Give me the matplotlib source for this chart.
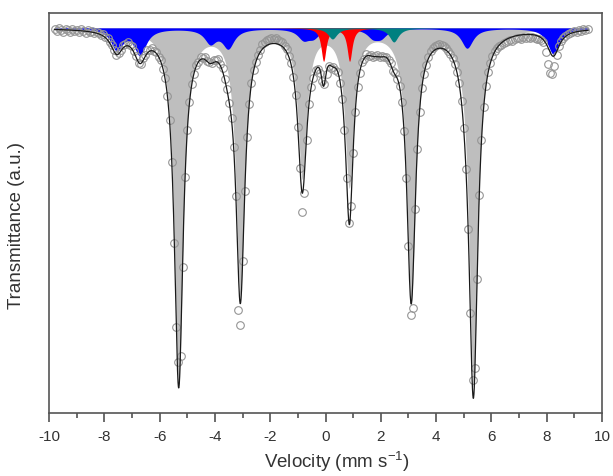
import numpy as np
import matplotlib
matplotlib.use("Agg")
from matplotlib import pyplot as plt

plt.rcParams['font.family'] = ['Liberation Sans', 'DejaVu Sans']
plt.rcParams['axes.unicode_minus'] = False

# fitted sub-spectra: line positions (mm/s), depths (a.u.), half widths (mm/s)
gray_pos = [-5.31, -3.08, -0.84, 0.86, 3.10, 5.35]
gray_depth = [355, 265, 146, 155, 269, 356]
gray_hw = 0.19

blue_pos = [-7.55, -6.71, -4.17, -3.52, -0.80, -0.44, 1.71, 2.00, 5.12, 8.24]
blue_depth = [21, 26, 14, 19, 10, 8, 8, 8, 20, 26]
blue_hw = 0.26

red_pos = [-0.07, 0.87]
red_depth = [33, 33]
red_hw = 0.11

teal_pos = [0.25, 2.47]
teal_depth = [11, 14]
teal_hw = 0.2

baseline = 1000

# measured spectrum: 242 channels from -9.8 to 9.48 mm/s, absorption below baseline
v_start, v_end, n_ch = -9.8, 9.48, 242
absorption = [
    1, 3, 0, 2, 4, 1, 2, 4, 1, 3, 2, 4, 1, 3, 5, 2, 4, 3, 5, 4,
    5, 7, 6, 9, 10, 14, 17, 22, 27, 25,
    22, 17, 16, 14, 17, 18, 23, 28, 35, 36,
    30, 27, 22, 22, 20, 23, 24, 29, 32, 41,
    50, 68, 92, 134, 215, 299, 334, 328, 239, 149,
    102, 74, 56, 46, 37, 34, 29, 30, 29, 33,
    34, 35, 32, 32, 31, 36, 40, 51, 61, 75,
    90, 119, 168, 282, 297, 233, 163, 109, 76, 55,
    42, 34, 27, 22, 16, 14, 12, 11, 10, 11,
    10, 12, 13, 14, 18, 21, 28, 35, 49, 67,
    99, 140, 184, 165, 112, 76, 59, 50, 42, 41,
    45, 53, 56, 46, 38, 40, 39, 42, 44, 55,
    71, 102, 150, 195, 178, 125, 84, 59, 45, 34,
    31, 26, 28, 27, 29, 28, 27, 29, 28, 29,
    29, 32, 35, 43, 45, 51, 58, 74, 103, 150,
    218, 287, 280, 181, 121, 84, 60, 46, 37, 29,
    23, 20, 18, 17, 16, 17, 18, 20, 23, 26,
    30, 36, 44, 55, 73, 100, 141, 201, 285, 352,
    340, 251, 167, 112, 79, 58, 44, 35, 28, 23,
    20, 18, 17, 15, 14, 13, 12, 13, 11, 10,
    10, 11, 9, 10, 9, 10, 9, 10, 11, 11,
    12, 14, 24, 36, 45, 46, 38, 27, 18, 13,
    10, 8, 6, 5, 4, 3, 4, 2, 3, 1,
    2, 1,
]


def lines(v, pos, depth, hw):
    out = np.zeros_like(v)
    for p, d in zip(pos, depth):
        out += d * hw**2 / ((v - p)**2 + hw**2)
    return out


ch = np.linspace(v_start, v_end, n_ch)
counts = baseline - np.array(absorption)

v = np.linspace(-9.8, 9.5, 3000)
gray = lines(v, gray_pos, gray_depth, gray_hw)
blue = lines(v, blue_pos, blue_depth, blue_hw)
red = lines(v, red_pos, red_depth, red_hw)
teal = lines(v, teal_pos, teal_depth, teal_hw)
total = baseline - (gray + blue + red + teal)

fig = plt.figure(figsize=(6.13, 4.77), dpi=100)
ax = fig.add_axes([0.080, 0.132, 0.902, 0.839])

ax.fill_between(v, baseline, baseline - gray, color='#bebebe', lw=0, zorder=1)
ax.fill_between(v, baseline, baseline - blue, color='#0000ff', lw=0, zorder=2)
ax.fill_between(v, baseline, baseline - red, color='#ff0000', lw=0, zorder=3)
ax.fill_between(v, baseline, baseline - teal, color='#008080', lw=0, zorder=4)
ax.plot(ch, counts, 'o', ms=5.5, mfc='none', mec='#959595', mew=0.8, zorder=5)
ax.plot(v, total, color='#1a1a1a', lw=0.9, zorder=6)

ax.set_xlim(-10, 10)
ax.set_ylim(615, 1015)
ax.set_xticks(np.arange(-10, 11, 2))
ax.set_xticks(np.arange(-9, 10, 2), minor=True)
ax.set_yticks([])
ax.tick_params(axis='x', which='major', direction='out', length=6.5, width=1.1,
               color='#444444', labelsize=11, labelcolor='#333333', pad=5)
ax.tick_params(axis='x', which='minor', direction='out', length=3.6, width=1.1, color='#444444')
for s in ax.spines.values():
    s.set_color('#555555')
    s.set_linewidth(1.2)

ax.set_xlabel('Velocity (mm s$^{\\mathregular{-1}}$)', fontsize=13.5, color='#333333')
ax.xaxis.set_label_coords(0.52, -0.088)
ax.set_ylabel('Transmittance (a.u.)', fontsize=13.5, color='#333333')
ax.yaxis.set_label_coords(-0.043, 0.47)

fig.savefig("out.png", dpi=100)
